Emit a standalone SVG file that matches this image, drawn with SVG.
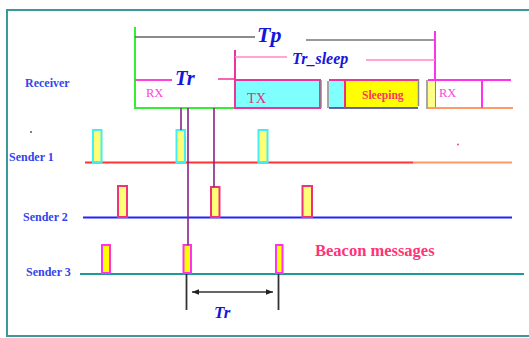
<svg xmlns="http://www.w3.org/2000/svg" width="529" height="338" viewBox="0 0 529 338">
<defs>
<marker id="ah" viewBox="0 0 10 10" refX="10" refY="5" markerWidth="7" markerHeight="7" orient="auto-start-reverse" markerUnits="userSpaceOnUse">
<path d="M0,1 L10,5 L0,9 Z" fill="#222"/>
</marker>
</defs>
<style>
.lbl{font-family:"Liberation Serif","Times New Roman",serif;font-weight:bold;fill:#3344ee;font-size:12px}
.ti{font-family:"Liberation Serif","Times New Roman",serif;font-weight:bold;font-style:italic;fill:#1515dd}
.rx{font-family:"Liberation Serif","Times New Roman",serif;fill:#ff44dd;font-size:12.5px}
.p1{fill:#ffff77;stroke:#44eeee;stroke-width:2}
.p2{fill:#ffff77;stroke:#ee3377;stroke-width:2}
.p3{fill:#ffff00;stroke:#ff33ee;stroke-width:2}
.pur{stroke:#882288;stroke-width:1.6;fill:none}
.tick{stroke:#888;stroke-width:1.5}
</style>
<rect x="0" y="0" width="529" height="338" fill="#fff"/>
<rect x="7" y="10" width="530" height="326" fill="none" stroke="#3a9a98" stroke-width="2"/>
<circle cx="31" cy="132" r="0.9" fill="#444"/>

<g id="receiver">
<text class="lbl" x="25" y="87" font-size="12">Receiver</text>
<!-- green window -->
<path d="M135,27 V108 H235" stroke="#33ee33" stroke-width="2" fill="none"/>
<!-- Tp -->
<line x1="135" y1="37" x2="255" y2="37" stroke="#666" stroke-width="1.3"/>
<text class="ti" x="257" y="42" font-size="22">Tp</text>
<line x1="306" y1="40" x2="435" y2="40" stroke="#777" stroke-width="1.5"/>
<line x1="435" y1="31" x2="435" y2="108" stroke="#ff33ee" stroke-width="2"/>
<!-- Tr_sleep -->
<line x1="235" y1="50" x2="235" y2="108" stroke="#ee3399" stroke-width="2"/>
<line x1="235" y1="57" x2="287" y2="57" stroke="#ff88cc" stroke-width="1.5"/>
<text class="ti" x="292" y="64" font-size="16">Tr_sleep</text>
<line x1="366" y1="60" x2="435" y2="60" stroke="#ff88cc" stroke-width="1.5"/>
<!-- Tr -->
<line x1="135" y1="80" x2="172" y2="80" stroke="#ff44dd" stroke-width="2"/>
<text class="ti" x="175" y="85" font-size="20.5">Tr</text>
<line x1="218" y1="79" x2="235" y2="79" stroke="#ee3399" stroke-width="1.5"/>
<text class="rx" x="146" y="97">RX</text>
<!-- TX box -->
<rect x="235" y="80" width="85" height="28" fill="#80ffff" stroke="#ee3399" stroke-width="2"/>
<text x="247" y="103" font-family="Liberation Serif, Times New Roman, serif" font-size="14.5" fill="#dd3377">TX</text>
<!-- sleeping box -->
<rect x="329" y="80" width="16" height="28" fill="#80ffff"/>
<rect x="345" y="80" width="73" height="28" fill="#ffff00"/>
<line x1="329" y1="80" x2="418" y2="80" stroke="#ee3399" stroke-width="2"/>
<line x1="329" y1="108" x2="418" y2="108" stroke="#333399" stroke-width="1.6"/>
<line x1="345" y1="80" x2="345" y2="108" stroke="#ee3377" stroke-width="2"/>
<text x="362" y="99" font-family="Liberation Serif, Times New Roman, serif" font-weight="bold" font-size="11.5" fill="#ff3366">Sleeping</text>
<line class="tick" x1="321" y1="80" x2="321" y2="108"/>
<line class="tick" x1="328" y1="81" x2="328" y2="108"/>
<line class="tick" x1="418.5" y1="79" x2="418.5" y2="106"/>
<line class="tick" x1="427" y1="80" x2="427" y2="109"/>
<!-- next RX -->
<rect x="428" y="80" width="7" height="28" fill="#ffff88"/>
<line x1="428" y1="80" x2="511" y2="80" stroke="#ff33ee" stroke-width="2"/>
<line x1="428" y1="108" x2="513" y2="108" stroke="#ff9966" stroke-width="2"/>
<line x1="482" y1="80" x2="482" y2="108" stroke="#ff33ee" stroke-width="2"/>
<text class="rx" x="439" y="97">RX</text>
</g>

<g id="sender1">
<text class="lbl" x="9" y="161">Sender 1</text>
<line x1="85" y1="162.5" x2="413" y2="162.5" stroke="#ff3333" stroke-width="2"/>
<line x1="413" y1="162.5" x2="512" y2="162.5" stroke="#ff9966" stroke-width="2"/>
<rect class="p1" x="93" y="130" width="8.5" height="32"/>
<rect class="p1" x="176.5" y="130" width="8.5" height="32"/>
<rect class="p1" x="258.5" y="130" width="9" height="32"/>
<circle cx="458" cy="144.5" r="0.9" fill="#ee3377"/>
</g>

<g id="sender2">
<text class="lbl" x="23" y="221">Sender 2</text>
<line x1="83" y1="217.5" x2="512" y2="217.5" stroke="#2222ff" stroke-width="2"/>
<rect class="p2" x="118" y="186" width="9" height="31"/>
<rect class="p2" x="211" y="187" width="8.5" height="30"/>
<rect class="p2" x="302.5" y="186" width="9.5" height="31"/>
</g>

<g id="sender3">
<text class="lbl" x="26" y="276">Sender 3</text>
<line x1="80" y1="274" x2="524" y2="274" stroke="#229999" stroke-width="2"/>
<rect class="p3" x="102" y="245" width="8" height="28"/>
<rect class="p3" x="183.5" y="245" width="7.5" height="28"/>
<rect class="p3" x="276" y="245" width="6.5" height="28"/>
<text x="315" y="256" font-family="Liberation Serif, Times New Roman, serif" font-weight="bold" font-size="16.5" fill="#ff3377">Beacon messages</text>
</g>

<g id="connectors">
<line class="pur" x1="181" y1="108" x2="181" y2="130"/>
<line class="pur" x1="188" y1="108" x2="188" y2="245"/>
<line class="pur" x1="214" y1="108" x2="214" y2="187"/>
<line x1="186.5" y1="274" x2="186.5" y2="310" stroke="#333" stroke-width="1.8"/>
<line x1="278.5" y1="274" x2="278.5" y2="310" stroke="#333" stroke-width="1.8"/>
<line x1="192" y1="292" x2="273" y2="292" stroke="#333" stroke-width="1.3" marker-start="url(#ah)" marker-end="url(#ah)"/>
<text class="ti" x="214" y="318" font-size="17">Tr</text>
</g>
</svg>
